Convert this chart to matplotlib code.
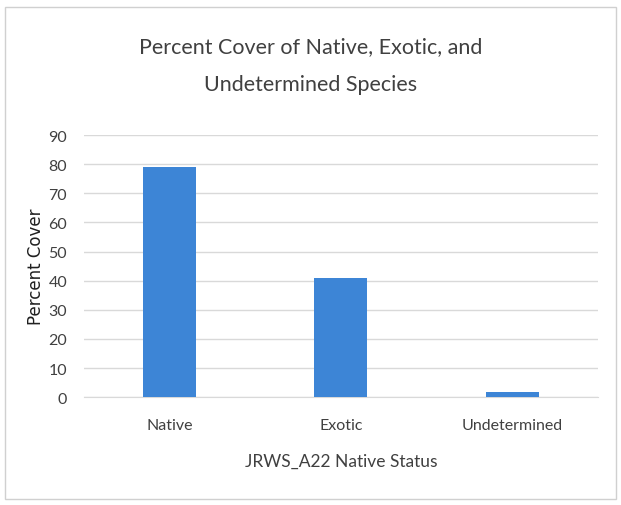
import matplotlib
matplotlib.use('Agg')
import matplotlib.pyplot as plt
from matplotlib.patches import Rectangle
import numpy as np

categories = ['Native', 'Exotic', 'Undetermined']
percentCover = [79, 41, 1.7]
yTicks = [0, 10, 20, 30, 40, 50, 60, 70, 80, 90]

plt.rcParams['font.family'] = ['Lato', 'DejaVu Sans']

fig = plt.figure(figsize=(6.21, 5.06), dpi=100)
# outer chart border
fig.patches.append(Rectangle((0.008, 0.012), 0.984, 0.972, transform=fig.transFigure,
                             fill=False, edgecolor='#d0d0d0', linewidth=1.0))

ax = fig.add_axes([0.135, 0.213, 0.828, 0.518])
x = np.arange(len(categories))
ax.bar(x, percentCover, width=0.31, color='#3d85d6', zorder=3)

ax.set_xlim(-0.5, len(categories) - 0.5)
ax.set_ylim(0, 90)
ax.set_yticks(yTicks)
ax.set_xticks(x)
ax.set_xticklabels(categories)
ax.tick_params(axis='both', length=0, labelsize=11.5, colors='#404040')
ax.tick_params(axis='x', pad=15)
ax.tick_params(axis='y', pad=12)
ax.grid(axis='y', color='#d9d9d9', linewidth=1.0, zorder=0)
for side in ['top', 'right', 'left']:
    ax.spines[side].set_visible(False)
ax.spines['bottom'].set_color('#d9d9d9')

ax.set_ylabel('Percent Cover', fontsize=12, family='DejaVu Sans', color='#202020')
ax.yaxis.set_label_coords(-0.075, 0.5)
ax.set_xlabel('JRWS_A22 Native Status', fontsize=12.5, color='#404040', labelpad=15)
fig.text(0.5, 0.87, 'Percent Cover of Native, Exotic, and\nUndetermined Species',
         ha='center', va='center', fontsize=15.5, color='#404040', linespacing=2.1)

fig.savefig('out.png', dpi=100)
